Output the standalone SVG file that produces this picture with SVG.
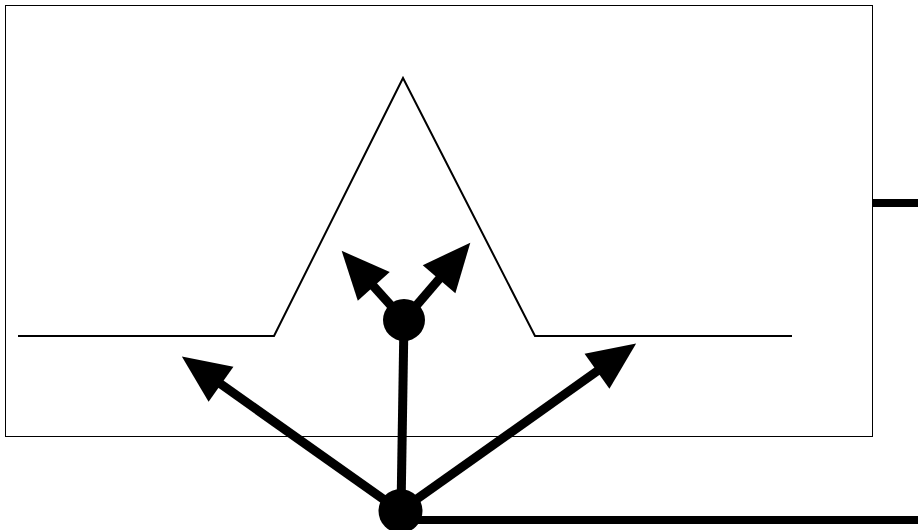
<svg xmlns="http://www.w3.org/2000/svg" width="918" height="530" viewBox="0 0 918 530">
  <style>
    .frame { fill: #ffffff; stroke: #000000; stroke-width: 1; }
    .wave { fill: none; stroke: #000000; stroke-width: 2; stroke-linejoin: miter; }
    .dot { fill: #000000; }
    .conn { fill: none; stroke: #000000; stroke-width: 9; stroke-linecap: butt; }
    .bar { fill: none; stroke: #000000; stroke-width: 8; }
  </style>
  <defs>
    <marker id="head" markerUnits="userSpaceOnUse" viewBox="0 -22 48 44" markerWidth="48" markerHeight="44" refX="1" refY="0" orient="auto" overflow="visible">
      <path d="M0,-21.5 L48,0 L0,21.5 Z" fill="#000000"/>
    </marker>
  </defs>
  <rect width="918" height="530" fill="#ffffff"/>
  <g id="frame">
    <rect class="frame" x="5.5" y="5.5" width="867" height="431"/>
  </g>
  <g id="waveform">
    <polyline class="wave" points="18,336 274,336 403,78 535,336 792,336"/>
  </g>
  <g id="connectors">
    <line class="bar" x1="872" y1="203" x2="918" y2="203"/>
    <line class="bar" x1="400" y1="520" x2="918" y2="520"/>
    <line class="conn" x1="401" y1="511" x2="404" y2="320"/>
    <line class="conn" x1="400" y1="511" x2="220.2" y2="383.7" marker-end="url(#head)"/>
    <line class="conn" x1="400" y1="511" x2="597.8" y2="370.7" marker-end="url(#head)"/>
    <line class="conn" x1="404" y1="320" x2="373.1" y2="285.7" marker-end="url(#head)"/>
    <line class="conn" x1="404" y1="320" x2="439.7" y2="278.4" marker-end="url(#head)"/>
  </g>
  <g id="node-top">
    <circle class="dot" cx="404" cy="320" r="21"/>
  </g>
  <g id="node-bottom">
    <circle class="dot" cx="400.5" cy="511" r="22"/>
  </g>
</svg>
